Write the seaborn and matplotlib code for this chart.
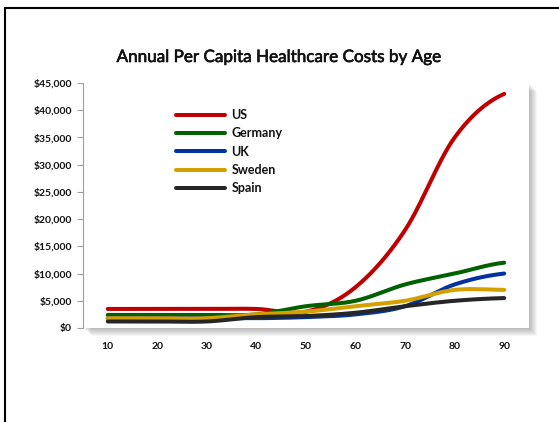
import numpy as np
import pandas as pd
import matplotlib
matplotlib.use("Agg")
import matplotlib.pyplot as plt
from matplotlib.patches import Rectangle
from matplotlib.lines import Line2D
import matplotlib.patheffects as pe
import seaborn as sns

# Annual per-capita healthcare cost by age group (USD)
ages = [10, 20, 30, 40, 50, 60, 70, 80, 90]
us = [3500, 3500, 3500, 3500, 3000, 7500, 18000, 35000, 43000]
germany = [2400, 2400, 2400, 2500, 4000, 5000, 8000, 10000, 12000]
uk = [1800, 1800, 1800, 1800, 2000, 2500, 4000, 8000, 10000]
sweden = [1800, 1800, 1800, 2500, 3000, 4000, 5000, 7000, 7000]
spain = [1200, 1200, 1200, 2000, 2200, 2800, 4000, 5000, 5500]

countries = ["US", "Germany", "UK", "Sweden", "Spain"]
series = [us, germany, uk, sweden, spain]
colors = ["#C00000", "#006100", "#0033A0", "#D4A000", "#262626"]
y_ticks = list(range(0, 45001, 5000))
y_labels = [f"${v:,}" for v in y_ticks]
x_labels = [str(a) for a in ages]


def smooth(x, y, steps=30):
    """Catmull-Rom curve through the points (spreadsheet-style smoothed line)."""
    x = np.asarray(x, float)
    y = np.asarray(y, float)
    px = np.concatenate([[2 * x[0] - x[1]], x, [2 * x[-1] - x[-2]]])
    py = np.concatenate([[y[0]], y, [y[-1]]])
    xs, ys = [], []
    t = np.linspace(0, 1, steps, endpoint=False)
    for i in range(1, len(px) - 2):
        for p, out in ((px, xs), (py, ys)):
            p0, p1, p2, p3 = p[i - 1], p[i], p[i + 1], p[i + 2]
            out.extend(0.5 * ((2 * p1) + (-p0 + p2) * t
                              + (2 * p0 - 5 * p1 + 4 * p2 - p3) * t ** 2
                              + (-p0 + 3 * p1 - 3 * p2 + p3) * t ** 3))
    xs.append(x[-1])
    ys.append(y[-1])
    return np.array(xs), np.array(ys)


frames = []
for name, vals in zip(countries, series):
    sx, sy = smooth(ages, vals)
    frames.append(pd.DataFrame({"age": sx, "cost": sy, "country": name}))
df = pd.concat(frames, ignore_index=True)

sns.set_theme(style="white")
plt.rcParams["font.family"] = ["Lato", "DejaVu Sans"]

fig = plt.figure(figsize=(5.59, 4.22), dpi=100)
W, H = 559, 422
left, right, top, bottom = 83, 529, 83, 328
ax = fig.add_axes([left / W, 1 - bottom / H, (right - left) / W, (bottom - top) / H])
ax.set_zorder(2)

# soft drop shadow behind the plot area
for k in range(1, 9):
    fig.add_artist(Rectangle(((left + k) / W, 1 - (bottom + k) / H),
                             (right - left) / W, (bottom - top) / H,
                             transform=fig.transFigure, facecolor="black",
                             edgecolor="none", alpha=0.035, zorder=0))

sns.lineplot(data=df, x="age", y="cost", hue="country", hue_order=countries,
             palette=colors, linewidth=2.9, sort=False, estimator=None, ax=ax)

ax.set_xlim(5, 95)
ax.set_ylim(0, 45000)
ax.set_xticks(ages, labels=x_labels, fontweight="bold", fontsize=7.5, color="#111111")
ax.set_yticks(y_ticks, labels=y_labels, fontweight="bold", fontsize=7.5, color="#111111")
ax.set_xlabel("")
ax.set_ylabel("")
for s in ("top", "right", "bottom"):
    ax.spines[s].set_visible(False)
ax.spines["left"].set_color("#A0A0A0")
ax.spines["left"].set_linewidth(0.8)
ax.tick_params(axis="y", which="major", left=True, length=4, width=0.8,
               color="#A0A0A0", pad=4)
ax.tick_params(axis="x", bottom=False, pad=4)

sns.move_legend(ax, loc="upper left", bbox_to_anchor=(0.208, 0.893),
                frameon=False, title=None, borderaxespad=0, borderpad=0,
                handlelength=3.9, handletextpad=0.55, labelspacing=0.5,
                fontsize=9)
for t in ax.get_legend().get_texts():
    t.set_fontweight("bold")
    t.set_color("#111111")

fig.text(0.5, 1 - 57 / H, "Annual Per Capita Healthcare Costs by Age",
         ha="center", va="center", fontsize=12.3, color="#111111",
         path_effects=[pe.withStroke(linewidth=0.45, foreground="#111111")])

# frame edges along the top and left of the canvas
fig.add_artist(Line2D([5 / W, 5 / W], [0, 1 - 8 / H], transform=fig.transFigure,
                      color="black", linewidth=1.5))
fig.add_artist(Line2D([5 / W, 1], [1 - 8 / H, 1 - 8 / H], transform=fig.transFigure,
                      color="black", linewidth=1.5))

fig.savefig("out.png", dpi=100)
